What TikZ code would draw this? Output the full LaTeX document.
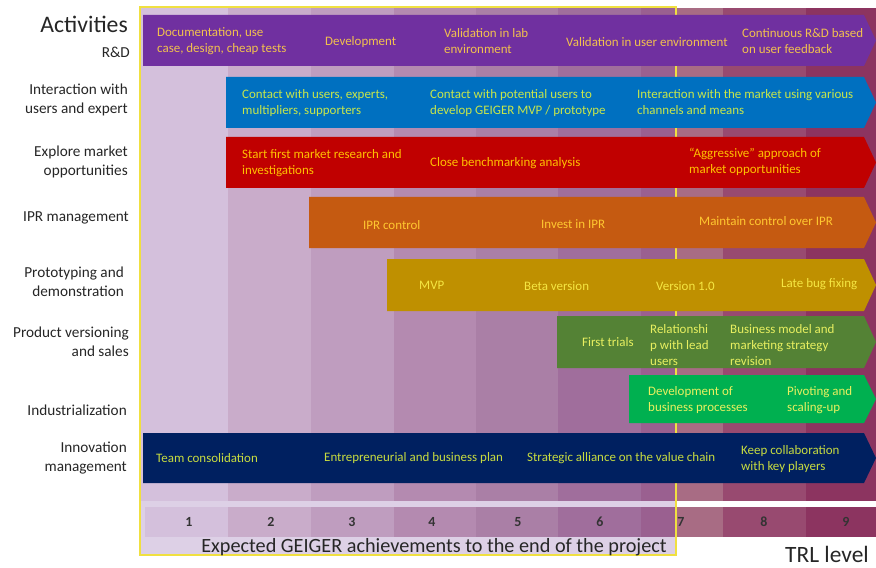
\documentclass[tikz,border=0pt]{standalone}
\usepackage{fontspec}
\setmainfont{Carlito}
\definecolor{cA}{HTML}{D4C0DC}
\definecolor{cB}{HTML}{C9ACCA}
\definecolor{cC}{HTML}{BF9DBF}
\definecolor{cD}{HTML}{B48AB0}
\definecolor{cE}{HTML}{AA7FA6}
\definecolor{cF}{HTML}{A06E9C}
\definecolor{cG}{HTML}{9A6090}
\definecolor{cGo}{HTML}{A86C84}
\definecolor{cH}{HTML}{984A70}
\definecolor{cI}{HTML}{8C3460}
\definecolor{boxfill}{HTML}{DDD0E6}
\definecolor{boxline}{HTML}{F0E040}
\definecolor{bPurple}{HTML}{7030A0}
\definecolor{bBlue}{HTML}{0070C0}
\definecolor{bRed}{HTML}{C00000}
\definecolor{bOrange}{HTML}{C55A11}
\definecolor{bGold}{HTML}{BF9000}
\definecolor{bDGreen}{HTML}{548235}
\definecolor{bGreen}{HTML}{00B050}
\definecolor{bNavy}{HTML}{002060}
\definecolor{tPurple}{HTML}{F2C14E}
\definecolor{tBlue}{HTML}{C8E64A}
\definecolor{tRed}{HTML}{FFC000}
\definecolor{tOrange}{HTML}{FFC830}
\definecolor{tGold}{HTML}{F5E642}
\definecolor{tGreen}{HTML}{E8F060}
\definecolor{tNavy}{HTML}{C8DC40}
\definecolor{labgray}{HTML}{262626}
\definecolor{numgray}{HTML}{333333}
\newcommand\gbar[4]{\fill[#4] (#1,#2) -- (864,#2) -- (876,{(#2+#3)/2}) -- (864,#3) -- (#1,#3) -- cycle;}
\begin{document}
\begin{tikzpicture}[x=1bp,y=-1bp,
  bartext/.style={inner sep=0pt, anchor=west, align=left, font=\fontsize{13}{16}\selectfont},
  rowlabel/.style={inner sep=0pt, anchor=east, align=right, text=labgray, font=\fontsize{15.3}{19}\selectfont},
  numlabel/.style={inner sep=0pt, text=numgray, font=\bfseries\fontsize{14}{16}\selectfont}]
\useasboundingbox (0,0) rectangle (876,568);
\fill[white] (0,0) rectangle (876,568);
% box background
\fill[boxfill] (140,7) rectangle (676,555);
% columns (upper)
\foreach \a/\b/\c in {145/228/cA,228/311/cB,311/394/cC,394/476/cD,476/558/cE,558/641/cF,641/676/cG,676/723/cGo,723/806/cH,806/876/cI}{
  \fill[\c] (\a,8) rectangle (\b,501);
  \fill[\c] (\a,507) rectangle (\b,537);
}
\fill[cA] (140,8) rectangle (145,501);
% box outline
\draw[boxline, line width=1.3pt] (140,7) rectangle (676,555);
% bars
\gbar{143}{15}{66}{bPurple}
\gbar{226}{77}{128}{bBlue}
\gbar{226}{137}{188}{bRed}
\gbar{309}{197}{248}{bOrange}
\gbar{387}{259}{311}{bGold}
\gbar{557}{316}{368}{bDGreen}
\gbar{629}{375}{423}{bGreen}
\gbar{143}{433}{483}{bNavy}
% row labels
\node[inner sep=0pt, anchor=east, text=labgray, font=\fontsize{23.8}{26}\selectfont] (act) at (128,24) {Activities};
\node[rowlabel] (l1) at (130,52) {R\&D};
\node[rowlabel] (l2) at (128,100) {Interaction with\\users and expert};
\node[rowlabel] (l3) at (128,162) {Explore market\\opportunities};
\node[rowlabel] (l4) at (129,218) {IPR management};
\node[rowlabel] (l5) at (124,282) {Prototyping and\\demonstration};
\node[rowlabel] (l6) at (129,342) {Product versioning\\and sales};
\node[rowlabel] (l7) at (127,410) {Industrialization};
\node[rowlabel] (l8) at (127,458) {Innovation\\management};
% R&D texts
\node[bartext, text=tPurple] (r1) at (157,41) {Documentation, use\\case, design, cheap tests};
\node[bartext, text=tPurple] (r2) at (325,42) {Development};
\node[bartext, text=tPurple] (r3) at (444,41) {Validation in lab\\environment};
\node[bartext, text=tPurple] (r4) at (566,42) {Validation in user environment};
\node[bartext, text=tPurple] (r5) at (742,41) {Continuous R\&D based\\on user feedback};
% interaction texts
\node[bartext, text=tBlue] (i1) at (242,103) {Contact with users, experts,\\multipliers, supporters};
\node[bartext, text=tBlue] (i2) at (430,103) {Contact with potential users to\\develop GEIGER MVP / prototype};
\node[bartext, text=tBlue] (i3) at (637,102) {Interaction with the market using various\\channels and means};
% explore texts
\node[bartext, text=tRed] (e1) at (242,163) {Start first market research and\\investigations};
\node[bartext, text=tRed] (e2) at (430,163) {Close benchmarking analysis};
\node[bartext, text=tRed] (e3) at (689,162) {“Aggressive” approach of\\market opportunities};
% IPR texts
\node[bartext, text=tOrange] (p1) at (363,225) {IPR control};
\node[bartext, text=tOrange] (p2) at (541,224) {Invest in IPR};
\node[bartext, text=tOrange] (p3) at (699,221) {Maintain control over IPR};
% prototyping texts
\node[bartext, text=tGold] (g1) at (419,285) {MVP};
\node[bartext, text=tGold] (g2) at (524,286) {Beta version};
\node[bartext, text=tGold] (g3) at (656,286) {Version 1.0};
\node[bartext, text=tGold] (g4) at (781,284) {Late bug fixing};
% product versioning
\node[bartext, text=tGreen] (v1) at (582,342) {First trials};
\node[bartext, text=tGreen] (v2) at (650,345) {Relationshi\\p with lead\\users};
\node[bartext, text=tGreen] (v3) at (730,345) {Business model and\\marketing strategy\\revision};
% industrialization
\node[bartext, text=tGreen] (d1) at (648,400) {Development of\\business processes};
\node[bartext, text=tGreen] (d2) at (787,400) {Pivoting and\\scaling-up};
% innovation
\node[bartext, text=tNavy] (n1) at (156,458) {Team consolidation};
\node[bartext, text=tNavy] (n2) at (324,458) {Entrepreneurial and business plan};
\node[bartext, text=tNavy] (n3) at (527,458) {Strategic alliance on the value chain};
\node[bartext, text=tNavy] (n4) at (741,459) {Keep collaboration\\with key players};
% numbers
\foreach \x/\n in {189/1,271/2,352/3,432/4,518/5,600/6,681/7,764/8,846/9}{
  \node[numlabel] (num\n) at (\x,522) {\n};
}
% bottom texts
\node[inner sep=0pt, text=labgray, font=\fontsize{20.3}{22}\selectfont] (exp) at (434,547) {Expected GEIGER achievements to the end of the project};
\node[inner sep=0pt, text=labgray, font=\fontsize{23.5}{26}\selectfont] (trl) at (827,554) {TRL level};
\end{tikzpicture}
\end{document}
